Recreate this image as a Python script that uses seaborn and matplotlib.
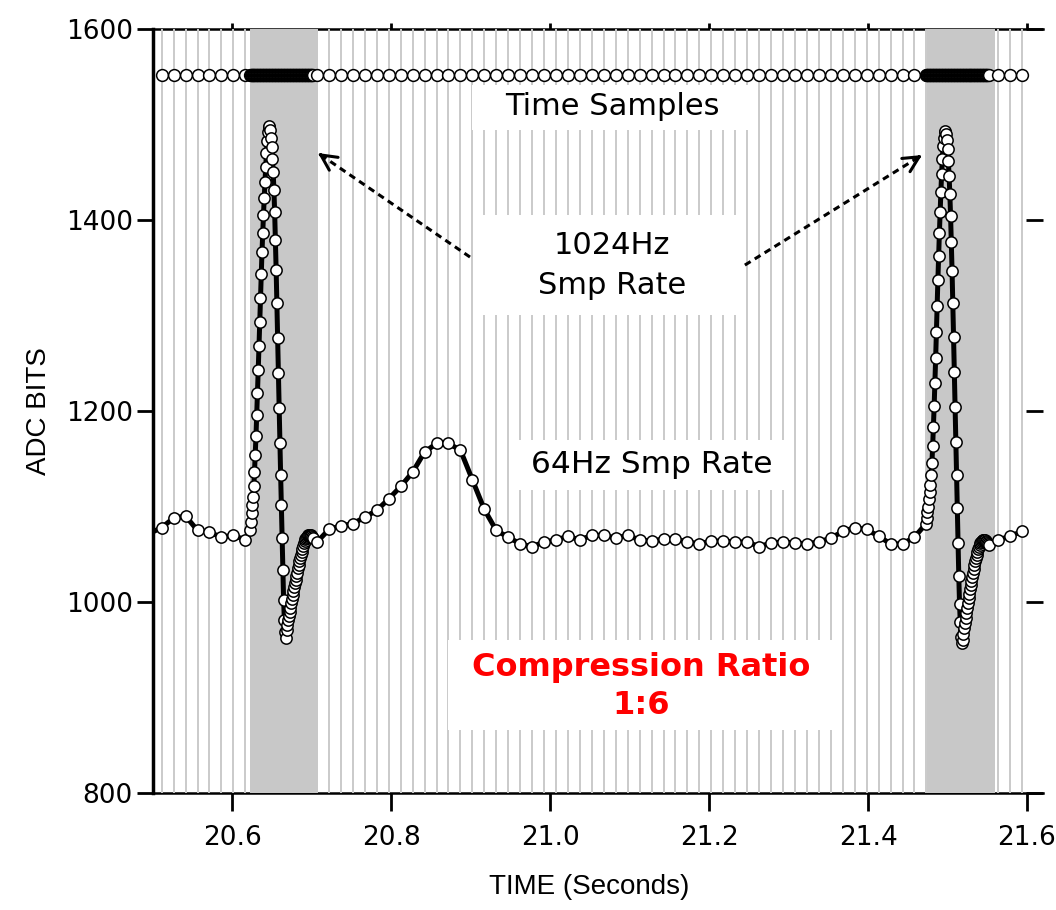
import matplotlib
matplotlib.use('Agg')
import matplotlib.pyplot as plt
import matplotlib.lines as mlines
from matplotlib.patches import Rectangle
import seaborn as sns
import pandas as pd
import numpy as np

sns.set_style('white')
plt.rcParams['font.family'] = ['DejaVu Sans']
plt.rcParams['text.color'] = 'black'
plt.rcParams['axes.labelcolor'] = 'black'

############ DATA ####################
# low rate samples, spacing in seconds
low_step = 0.01504
low_t0 = 20.4959
# ADC values of low rate samples, three runs with their first sample index
seg_a_k0 = 0
seg_a = [1072, 1078, 1088, 1090, 1075, 1073, 1068, 1070, 1065]
seg_b_k0 = 14
seg_b = [1063, 1076, 1080, 1082, 1089, 1096, 1108, 1121, 1136, 1157,
         1166, 1166, 1159, 1128, 1097, 1075,
         1068, 1061, 1058, 1063, 1065, 1069, 1065, 1070, 1070, 1067,
         1070, 1065, 1064, 1066, 1066, 1063, 1061, 1064, 1064, 1063,
         1063, 1058, 1062, 1063, 1062, 1061, 1063, 1067, 1074, 1078,
         1076, 1069, 1061, 1061, 1068]
seg_c_k0 = 71
seg_c = [1065, 1069, 1074]
n_grid = 74

# high rate windows (1024Hz) around the two QRS
high_step = low_step / 16
qrs1_t0 = 20.6221
qrs1 = [1075, 1084, 1093, 1102, 1110, 1121, 1136, 1154, 1174, 1196,
        1219, 1243, 1268, 1293, 1318, 1343, 1366, 1386, 1405, 1423,
        1439, 1455, 1470, 1482, 1492, 1497, 1498, 1494, 1486, 1476,
        1464, 1450, 1431, 1408, 1379, 1347, 1313, 1276, 1240, 1203,
        1166, 1133, 1102, 1067, 1034, 1002, 981, 969, 963, 971,
        976, 981, 985, 990, 994, 999, 1003, 1007, 1012, 1016,
        1020, 1023, 1027, 1031, 1036, 1039, 1043, 1046, 1049, 1052,
        1056, 1059, 1062, 1064, 1066, 1067, 1068, 1069, 1070, 1070,
        1070, 1070, 1069, 1068, 1067]
qrs2_t0 = 21.4729
qrs2 = [1082, 1088, 1094, 1100, 1108, 1115, 1123, 1133, 1146, 1163,
        1183, 1205, 1229, 1255, 1283, 1310, 1337, 1362, 1386, 1408,
        1429, 1448, 1464, 1477, 1486, 1492, 1493, 1490, 1483, 1474,
        1461, 1446, 1427, 1404, 1377, 1346, 1313, 1277, 1241, 1204,
        1168, 1133, 1098, 1062, 1027, 998, 979, 964, 957, 960,
        967, 973, 978, 983, 989, 994, 999, 1004, 1008, 1014,
        1018, 1022, 1026, 1030, 1035, 1039, 1043, 1046, 1049, 1052,
        1056, 1058, 1060, 1062, 1063, 1064, 1065, 1065, 1065, 1065,
        1064, 1063, 1062, 1061, 1060]
shade_spans = [(20.6227, 20.7081), (21.4742, 21.5598)]
samples_row = 1551

############ BUILD ###################
def low_times(k0, n):
    return low_t0 + low_step * np.arange(k0, k0 + n)

def high_times(t0, n):
    return t0 + high_step * np.arange(n)

df = pd.concat([
    pd.DataFrame({'t': low_times(seg_a_k0, len(seg_a)), 'adc': seg_a}),
    pd.DataFrame({'t': high_times(qrs1_t0, len(qrs1)), 'adc': qrs1}),
    pd.DataFrame({'t': low_times(seg_b_k0, len(seg_b)), 'adc': seg_b}),
    pd.DataFrame({'t': high_times(qrs2_t0, len(qrs2)), 'adc': qrs2}),
    pd.DataFrame({'t': low_times(seg_c_k0, len(seg_c)), 'adc': seg_c}),
]).sort_values('t').reset_index(drop=True)
shown = df[df['t'] >= 20.5]

grid_t = low_t0 + low_step * np.arange(1, n_grid)

############ PLOT ####################
fig = plt.figure(figsize=(10.56, 9.10), dpi=100)
ax = fig.add_axes([0.1449, 0.1282, 0.8426, 0.8404])

ax.vlines(grid_t, 800, 1600, color='#cacaca', lw=1.4, zorder=2.6)
for a, b in shade_spans:
    ax.axvspan(a, b, color='#c8c8c8', lw=0, zorder=2.7)

# white label boxes
for x0, y0, w, h in [(20.9015, 1493.8, 0.3524, 47.1), (20.909, 1300.3, 0.336, 104.6),
                     (20.9556, 1117.3, 0.3462, 52.3), (20.8713, 866.2, 0.4871, 94.2)]:
    ax.add_patch(Rectangle((x0, y0), w, h, facecolor='white', edgecolor='none', zorder=3))

# signal line, then the sample markers on top
sns.lineplot(data=df, x='t', y='adc', sort=True, estimator=None, ax=ax,
             color='black', lw=3.6, zorder=5)
sns.scatterplot(data=shown, x='t', y='adc', ax=ax, s=66, color='white',
                edgecolor='black', linewidth=1.1, zorder=6)

sns.scatterplot(x=shown['t'], y=np.full(len(shown), samples_row), ax=ax, s=72,
                color='white', edgecolor='black', linewidth=1.1, zorder=5)

txt = dict(ha='center', va='center', zorder=4)
ax.text(21.078, 1518, 'Time Samples', fontsize=22, **txt)
ax.text(21.078, 1352, '1024Hz\nSmp Rate', fontsize=22, linespacing=1.5, **txt)
ax.text(21.128, 1144, '64Hz Smp Rate', fontsize=22.5, **txt)
ax.text(21.114, 912, 'Compression Ratio\n1:6', color='red', fontweight='bold',
        linespacing=1.3, fontsize=23, **txt)

# dashed arrows
for tail, head in [((20.899, 1361), (20.7077, 1469.8)), ((21.245, 1352.6), (21.468, 1467.7))]:
    ax.plot([tail[0], head[0]], [tail[1], head[1]], color='black', lw=2.2,
            dashes=(2.2, 1.6), zorder=4)
    ax.annotate('', xy=head, xytext=(head[0] + (tail[0] - head[0]) * 0.02,
                                       head[1] + (tail[1] - head[1]) * 0.02),
                arrowprops=dict(arrowstyle='->', color='black', lw=2.2,
                                mutation_scale=28, shrinkA=0, shrinkB=0), zorder=4)

ax.set_xlim(20.5, 21.62)
ax.set_ylim(800, 1600)
ax.set_xticks([20.6, 20.8, 21.0, 21.2, 21.4, 21.6])
ax.set_xticklabels(['20.6', '20.8', '21.0', '21.2', '21.4', '21.6'])
ax.set_yticks([800, 1000, 1200, 1400, 1600])

for s in ['left', 'bottom', 'top']:
    ax.spines[s].set_color('black')
ax.spines['left'].set_linewidth(2.5)
ax.spines['bottom'].set_linewidth(1.8)
ax.spines['top'].set_linewidth(1.8)
ax.spines['right'].set_visible(False)

ax.tick_params(axis='x', which='major', direction='out', length=13, width=2,
               top=True, bottom=True, labelsize=19, pad=10, colors='black')
ax.tick_params(axis='y', which='major', direction='out', length=11.5, width=2,
               left=True, right=True, labelsize=19, pad=3, colors='black')
for tk in ax.xaxis.get_major_ticks():
    tk.tick2line.set_markersize(4.5)
for tk in ax.yaxis.get_major_ticks():
    tk.tick2line.set_marker(mlines.TICKLEFT)
    tk.tick2line.set_markersize(12)

ax.set_xlabel('TIME (Seconds)', fontsize=20, family=['Liberation Sans'])
ax.set_ylabel('ADC BITS', fontsize=20, family=['Liberation Sans'])
ax.xaxis.set_label_coords(0.49, -0.105)
ax.yaxis.set_label_coords(-0.113, 0.5)

plt.savefig('out.png', dpi=100)
